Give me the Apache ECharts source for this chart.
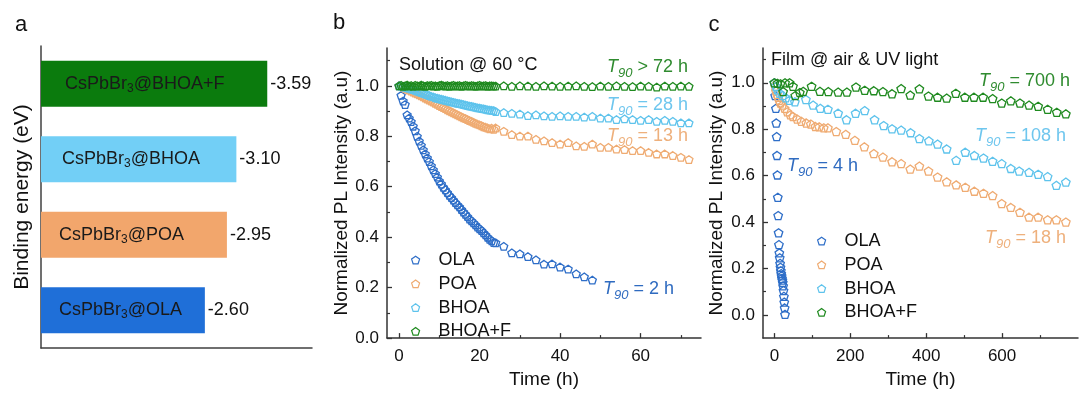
<!DOCTYPE html>
<html>
<head>
<meta charset="utf-8">
<script src="https://cdn.jsdelivr.net/npm/echarts@6/dist/echarts.min.js"></script>
<style>html,body{margin:0;padding:0;background:#fff;}#chart{width:1080px;height:394px;}</style>
</head>
<body>
<div id="chart"></div>
<script>
// ---------- Panel a ----------
const aCategories = ['CsPbBr3@BHOA+F', 'CsPbBr3@BHOA', 'CsPbBr3@POA', 'CsPbBr3@OLA'];
const aEnergies = [-3.59, -3.10, -2.95, -2.60];
const aColors = ['#0b7b0d', '#72cff6', '#f2a66c', '#1f6fd8'];

// ---------- Panel b (Solution @ 60 °C) ----------
const bDenseT = [0,0.5,1,1.5,2,2.5,3,3.5,4,4.5,5,5.5,6,6.5,7,7.5,8,8.5,9,9.5,10,10.5,11,11.5,12,12.5,13,13.5,14,14.5,15,15.5,16,16.5,17,17.5,18,18.5,19,19.5,20,20.5,21,21.5,22,22.5,23,23.5];
const bSparseT = [24,26,28,30,32,34,36,38,40,42,44,46,48,50,52,54,56,58,60,62,64,66,68,70,72];
const bOlaSparseT = [24,26,28,30,32,34,36,38,40,42,44,46,48];
const bOlaDense = [1.0,0.962,0.94,0.926,0.885,0.872,0.858,0.84,0.822,0.8,0.781,0.764,0.746,0.73,0.714,0.7,0.683,0.667,0.652,0.638,0.623,0.611,0.598,0.588,0.577,0.566,0.557,0.547,0.537,0.528,0.52,0.51,0.5,0.491,0.482,0.472,0.465,0.457,0.449,0.44,0.433,0.426,0.417,0.409,0.4,0.392,0.386,0.379];
const bOlaSparse = [0.378,0.364,0.338,0.334,0.323,0.31,0.293,0.294,0.282,0.274,0.255,0.243,0.23];
const bPoaDense = [1.0,0.997,0.994,0.99,0.986,0.983,0.979,0.975,0.971,0.968,0.964,0.96,0.956,0.952,0.948,0.944,0.94,0.936,0.931,0.927,0.922,0.918,0.914,0.91,0.905,0.901,0.897,0.893,0.889,0.885,0.881,0.877,0.873,0.87,0.866,0.862,0.859,0.855,0.851,0.848,0.845,0.842,0.838,0.836,0.833,0.83,0.832,0.828];
const bPoaSparse = [0.833,0.82,0.807,0.801,0.801,0.788,0.782,0.775,0.769,0.775,0.762,0.760,0.769,0.756,0.756,0.749,0.747,0.743,0.743,0.736,0.730,0.730,0.724,0.717,0.708];
const bBhoaDense = [1.0,0.998,0.996,0.994,0.992,0.99,0.987,0.985,0.982,0.979,0.976,0.973,0.97,0.967,0.964,0.961,0.958,0.956,0.953,0.951,0.949,0.947,0.945,0.943,0.941,0.939,0.937,0.935,0.933,0.931,0.93,0.928,0.926,0.924,0.922,0.92,0.919,0.917,0.915,0.913,0.912,0.91,0.909,0.907,0.905,0.904,0.903,0.902];
const bBhoaSparse = [0.898,0.894,0.891,0.888,0.882,0.885,0.881,0.879,0.881,0.879,0.879,0.876,0.879,0.872,0.872,0.866,0.869,0.866,0.863,0.866,0.859,0.863,0.859,0.853,0.853];
const bBhoaFDense = [1.0,1.002,0.998,1.0,1.003,0.999,1.001,0.998,1.002,1.0,0.999,1.003,1.0,0.998,1.001,1.0,1.002,0.999,1.0,0.998,1.001,1.003,1.0,0.999,1.001,0.998,1.0,1.002,0.999,1.0,1.001,0.998,1.0,1.002,1.0,0.999,1.001,1.0,0.998,1.0,1.002,0.999,1.0,1.001,0.998,1.0,1.0,0.999];
const bBhoaFSparse = [0.999,1.0,0.998,1.0,0.999,0.998,1.0,0.999,0.998,0.999,1.0,0.998,0.997,0.999,0.998,1.0,0.998,0.997,0.999,0.998,0.995,0.999,0.998,0.999,0.998];

// ---------- Panel c (Film @ air & UV light) ----------
const cOlaT = [0,2,4,5,6,7,8,9,10,11,12,13,14,15,16,17,18,19,20,21,22,23,24,25,26,27,28];
const cOlaV = [1.0,0.945,0.89,0.827,0.768,0.687,0.603,0.507,0.428,0.354,0.303,0.267,0.246,0.222,0.205,0.19,0.178,0.168,0.158,0.15,0.14,0.125,0.105,0.08,0.055,0.03,0.002];
const cPoaT = [0,2,4,7,10,13,16,21,27,34,42,49,60,71,84,96,108,118,130,141,163,188,212,237,262,286,310,334,358,382,406,430,454,479,503,527,551,575,599,623,647,671,695,720,743,768];
const cPoaV = [1.0,0.985,0.965,0.95,0.938,0.924,0.913,0.904,0.89,0.875,0.862,0.855,0.844,0.834,0.827,0.822,0.812,0.81,0.806,0.806,0.79,0.778,0.752,0.724,0.695,0.68,0.66,0.652,0.628,0.641,0.62,0.594,0.573,0.56,0.55,0.533,0.524,0.514,0.48,0.463,0.442,0.421,0.421,0.41,0.41,0.40];
const cBhoaT = [0,4,8,14,22,30,40,54,83,102,121,141,168,190,214,238,264,288,310,334,359,382,407,430,454,479,503,527,551,575,599,623,645,671,695,720,743,768];
const cBhoaV = [1.0,0.985,0.97,0.955,0.945,0.935,0.925,0.918,0.928,0.904,0.89,0.886,0.869,0.841,0.869,0.88,0.841,0.816,0.802,0.796,0.785,0.76,0.75,0.736,0.715,0.666,0.701,0.687,0.676,0.662,0.652,0.631,0.62,0.614,0.606,0.596,0.558,0.572];
const cBhoaFT = [0,8,16,23,28,40,49,55,67,76,98,120,142,168,191,215,238,262,286,310,334,358,382,406,430,454,478,502,526,550,575,599,623,647,671,695,720,744,768];
const cBhoaFV = [1.0,0.998,0.996,0.962,1.0,1.0,0.985,0.945,0.958,0.963,0.985,0.963,0.962,0.96,0.96,0.982,0.968,0.966,0.962,0.953,0.975,0.947,0.974,0.943,0.938,0.934,0.955,0.938,0.938,0.938,0.932,0.913,0.922,0.913,0.904,0.899,0.886,0.873,0.866];

// ---------- Ticks ----------
const bXMajor = [0,20,40,60];
const bXMinor = [10,30,50,70];
const cXMajor = [0,200,400,600];
const cXMinor = [100,300,500,700];
const yMajor = [0,0.2,0.4,0.6,0.8,1.0];
const yMinor = [0.1,0.3,0.5,0.7,0.9,1.1];

const seriesNames = ['OLA', 'POA', 'BHOA', 'BHOA+F'];
const markerColors = ['#2e6ec8', '#efab72', '#5ec3ec', '#1f8a1f'];

const FONT = "'Liberation Sans', Arial, sans-serif";
const AX = '#333333';
const PENT = 'path://M5,0 L10,3.63 L8.09,9.51 L1.91,9.51 L0,3.63 Z';

function pairs(ts, vs) { return ts.map((t, i) => [t, vs[i]]); }

const bData = [
  pairs(bDenseT, bOlaDense).concat(pairs(bOlaSparseT, bOlaSparse)),
  pairs(bDenseT, bPoaDense).concat(pairs(bSparseT, bPoaSparse)),
  pairs(bDenseT, bBhoaDense).concat(pairs(bSparseT, bBhoaSparse)),
  pairs(bDenseT, bBhoaFDense).concat(pairs(bSparseT, bBhoaFSparse))
];
const cData = [pairs(cOlaT, cOlaV), pairs(cPoaT, cPoaV), pairs(cBhoaT, cBhoaV), pairs(cBhoaFT, cBhoaFV)];

function majorX(grid, min, max, major, name) {
  return {
    gridIndex: grid, type: 'value', position: 'bottom', min: min, max: max,
    axisLine: { show: true, onZero: false, lineStyle: { color: AX, width: 1.5 } },
    axisTick: { show: true, inside: true, length: 5, customValues: major, lineStyle: { color: AX, width: 1.3 } },
    axisLabel: { show: true, customValues: major, margin: 10, fontSize: 17, color: '#111', fontFamily: FONT },
    splitLine: { show: false },
    name: name, nameLocation: 'middle', nameGap: 27,
    nameTextStyle: { fontSize: 19, color: '#111', fontFamily: FONT }
  };
}
function minorAxis(grid, min, max, minor, pos) {
  return {
    gridIndex: grid, type: 'value', position: pos, min: min, max: max,
    axisLine: { show: false, onZero: false },
    axisTick: { show: true, inside: true, length: 3, customValues: minor, lineStyle: { color: AX, width: 1.2 } },
    axisLabel: { show: false }, splitLine: { show: false }
  };
}
function majorY(grid, min, max, nameGap) {
  return {
    gridIndex: grid, type: 'value', position: 'left', min: min, max: max,
    axisLine: { show: true, onZero: false, lineStyle: { color: AX, width: 1.5 } },
    axisTick: { show: true, inside: true, length: 5, customValues: yMajor, lineStyle: { color: AX, width: 1.3 } },
    axisLabel: { show: true, customValues: yMajor, margin: 8, fontSize: 17, color: '#111', fontFamily: FONT,
      formatter: v => v.toFixed(1) },
    splitLine: { show: false },
    name: 'Normalized PL Intensity (a.u)', nameLocation: 'middle', nameGap: nameGap,
    nameTextStyle: { fontSize: 19, color: '#111', fontFamily: FONT }
  };
}

function t90(x, y, align, rest, color) {
  return {
    type: 'text', x: x, y: y,
    style: {
      text: '{i|T}{s|90}{n|' + rest + '}',
      textAlign: align, textVerticalAlign: 'middle', fill: color,
      rich: {
        i: { fontSize: 18, fontStyle: 'italic', fontFamily: FONT, fill: color, lineHeight: 22 },
        s: { fontSize: 13, fontStyle: 'italic', fontFamily: FONT, fill: color, lineHeight: 14, padding: [13, 0, 0, 0] },
        n: { fontSize: 18, fontFamily: FONT, fill: color, lineHeight: 22 }
      }
    }
  };
}
function plainText(x, y, txt, size, align) {
  return { type: 'text', x: x, y: y,
    style: { text: txt, fontSize: size, fontFamily: FONT, fill: '#111', textAlign: align || 'left', textVerticalAlign: 'middle' } };
}

const barItems = aEnergies.map((v, i) => ({
  value: Math.abs(v),
  itemStyle: { color: aColors[i] },
  label: { distance: [24, 21, 18, 18][i] }
}));

const scatterSeries = [];
seriesNames.forEach((n, i) => {
  scatterSeries.push({
    name: n, type: 'scatter', xAxisIndex: 1, yAxisIndex: 1, data: bData[i],
    symbol: PENT, symbolSize: [8, 7.6],
    itemStyle: { color: 'rgba(255,255,255,0)', borderColor: markerColors[i], borderWidth: 1.3, opacity: 1 }
  });
});
seriesNames.forEach((n, i) => {
  scatterSeries.push({
    name: n, type: 'scatter', xAxisIndex: 3, yAxisIndex: 3, data: cData[i],
    symbol: PENT, symbolSize: [8.5, 8.1],
    itemStyle: { color: 'rgba(255,255,255,0)', borderColor: markerColors[i], borderWidth: 1.3, opacity: 1 }
  });
});

function legend(left, top, pad) {
  return {
    left: left, top: top, orient: 'vertical', data: seriesNames,
    itemWidth: 8, itemHeight: 8, itemGap: 3.8, selectedMode: false,
    itemStyle: { borderWidth: 1.2 },
    textStyle: { fontSize: 18, lineHeight: 20, color: '#111', fontFamily: FONT, padding: [0, 0, 0, pad] }
  };
}

const option = {
  animation: false,
  textStyle: { fontFamily: FONT },
  grid: [
    { left: 41, top: 46, width: 271, height: 302 },
    { left: 387, top: 48, width: 314, height: 297 },
    { left: 763, top: 48, width: 315, height: 296 }
  ],
  xAxis: [
    { gridIndex: 0, type: 'value', position: 'bottom', min: 0, max: 4.3,
      axisLine: { show: true, onZero: false, lineStyle: { color: '#404040', width: 1.5 } },
      axisTick: { show: false }, axisLabel: { show: false }, splitLine: { show: false } },
    majorX(1, -3, 75, bXMajor, 'Time (h)'),
    minorAxis(1, -3, 75, bXMinor, 'bottom'),
    majorX(2, -30, 800, cXMajor, 'Time (h)'),
    minorAxis(2, -30, 800, cXMinor, 'bottom')
  ],
  yAxis: [
    { gridIndex: 0, type: 'category', position: 'left', inverse: true, data: aCategories,
      axisLine: { show: true, lineStyle: { color: '#404040', width: 1.5 } },
      axisTick: { show: false }, axisLabel: { show: false }, splitLine: { show: false },
      name: 'Binding energy (eV)', nameLocation: 'middle', nameGap: 8,
      nameTextStyle: { fontSize: 21, color: '#111', fontFamily: FONT } },
    majorY(1, 0, 1.15, 36),
    minorAxis(1, 0, 1.15, yMinor, 'left'),
    majorY(2, -0.1, 1.15, 37),
    minorAxis(2, -0.1, 1.15, yMinor, 'left')
  ],
  legend: [legend(406, 245, 14), legend(812, 226, 14)],
  series: [
    { type: 'bar', xAxisIndex: 0, yAxisIndex: 0, barWidth: 46, data: barItems, silent: true,
      label: { show: true, position: 'insideLeft',
        formatter: p => { const parts = p.name.split('3@'); return '{n|' + parts[0] + '}{s|3}{n|@' + parts[1] + '}'; },
        rich: {
          n: { fontSize: 18, color: '#1a1a1a', fontFamily: FONT, lineHeight: 22 },
          s: { fontSize: 12, color: '#1a1a1a', fontFamily: FONT, lineHeight: 12, padding: [9, 0, 0, 0] }
        } } },
    { type: 'bar', xAxisIndex: 0, yAxisIndex: 0, barWidth: 46, barGap: '-100%', silent: true,
      data: aEnergies.map(v => Math.abs(v)),
      itemStyle: { color: 'rgba(0,0,0,0)' },
      label: { show: true, position: 'right', distance: 3, fontSize: 18, color: '#111', fontFamily: FONT,
        formatter: p => aEnergies[p.dataIndex].toFixed(2) } }
  ].concat(scatterSeries),
  graphic: [
    plainText(21, 25, 'a', 22, 'center'),
    plainText(339, 23, 'b', 22, 'center'),
    plainText(714, 25, 'c', 22, 'center'),
    plainText(399, 65.5, 'Solution @ 60 °C', 18),
    plainText(771, 60, 'Film @ air & UV light', 18),
    t90(688, 66.7, 'right', ' > 72 h', '#2f8b2f'),
    t90(688, 105.3, 'right', ' = 28 h', '#6ec6ee'),
    t90(688, 135.8, 'right', ' = 13 h', '#eeb07c'),
    t90(603, 289, 'left', ' = 2 h', '#2f6bc0'),
    t90(1070, 80.7, 'right', ' = 700 h', '#2f8b2f'),
    t90(1066, 136, 'right', ' = 108 h', '#6ec6ee'),
    t90(787, 166.3, 'left', ' = 4 h', '#2f6bc0'),
    t90(1066, 238.3, 'right', ' = 18 h', '#eeb07c')
  ]
};

const chart = echarts.init(document.getElementById('chart'), null, { renderer: 'canvas' });
chart.setOption(option);
</script>
</body>
</html>
